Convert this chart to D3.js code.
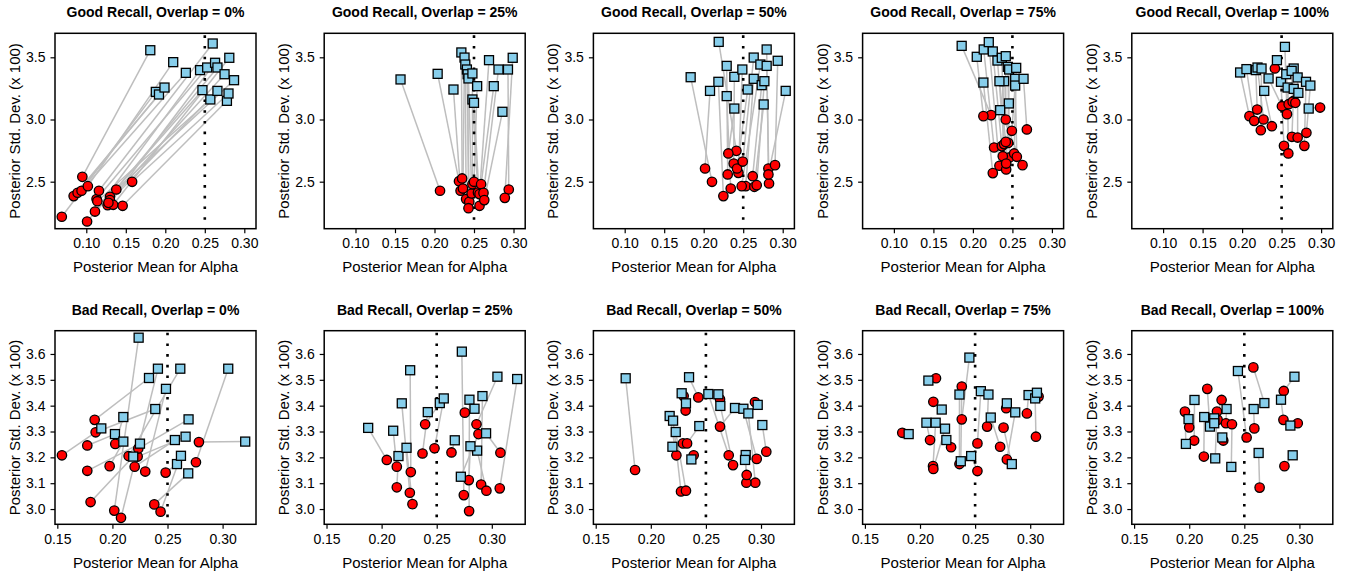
<!DOCTYPE html>
<head>
  <meta charset="utf-8">
</head>
<style>
body {
  margin: 0;
  background: #ffffff;
}

text {
  font-family: "Liberation Sans", Arial, sans-serif;
  fill: #000000;
}

.seg {
  stroke: #bebebe;
  stroke-width: 1.5;
}

.red {
  fill: #ff0000;
  stroke: #000000;
  stroke-width: 1.3;
}

.blue {
  fill: #87ceeb;
  stroke: #000000;
  stroke-width: 1.3;
}
</style>
<body>
<script src="https://d3js.org/d3.v7.min.js"></script>
<script>
var width = 1346,
  height = 575;

var recall = ["Good", "Bad"];
var overlap = ["0%", "25%", "50%", "75%", "100%"];

var xTicksGood = [0.10, 0.15, 0.20, 0.25, 0.30];
var yTicksGood = [2.5, 3.0, 3.5];
var xTicksBad = [0.15, 0.20, 0.25, 0.30];
var yTicksBad = [3.0, 3.1, 3.2, 3.3, 3.4, 3.5, 3.6];
var trueAlpha = 0.25;

// each row: [red mean, red sd, blue mean, blue sd]
var good0 = [
  [0.069, 2.218, 0.188, 3.222], [0.084, 2.384, 0.192, 3.201], [0.089, 2.411, 0.199, 3.257],
  [0.094, 2.427, 0.226, 3.375], [0.095, 2.539, 0.181, 3.557], [0.102, 2.464, 0.210, 3.461],
  [0.101, 2.180, 0.247, 3.236], [0.111, 2.260, 0.244, 3.397], [0.113, 2.360, 0.253, 3.418],
  [0.116, 2.427, 0.260, 3.611], [0.127, 2.311, 0.263, 3.456], [0.130, 2.378, 0.266, 3.418],
  [0.130, 2.352, 0.275, 3.364], [0.134, 2.314, 0.281, 3.496], [0.138, 2.437, 0.287, 3.316],
  [0.146, 2.306, 0.278, 3.150], [0.158, 2.499, 0.280, 3.209], [0.114, 2.343, 0.257, 3.161],
  [0.128, 2.330, 0.266, 3.230]
];

var good25 = [
  [0.207, 2.427, 0.157, 3.322], [0.231, 2.504, 0.204, 3.367], [0.233, 2.427, 0.224, 3.241],
  [0.235, 2.526, 0.234, 3.539], [0.236, 2.445, 0.238, 3.498], [0.240, 2.360, 0.239, 3.442],
  [0.244, 2.338, 0.241, 3.402], [0.243, 2.287, 0.242, 3.364], [0.247, 2.405, 0.243, 3.330],
  [0.248, 2.480, 0.248, 3.370], [0.250, 2.499, 0.254, 3.268], [0.255, 2.413, 0.248, 3.161],
  [0.257, 2.306, 0.250, 3.134], [0.257, 2.400, 0.269, 3.477], [0.259, 2.480, 0.275, 3.268],
  [0.262, 2.410, 0.281, 3.402], [0.263, 2.352, 0.286, 3.062], [0.294, 2.437, 0.293, 3.402],
  [0.289, 2.370, 0.299, 3.496]
];

var good50 = [
  [0.2105, 2.499, 0.1835, 3.340], [0.2017, 2.606, 0.2080, 3.230], [0.2249, 2.384, 0.2186, 3.303],
  [0.2414, 2.748, 0.2190, 3.624], [0.2304, 2.558, 0.2291, 3.431], [0.2342, 2.445, 0.2291, 3.188],
  [0.2312, 2.727, 0.2388, 3.088], [0.2380, 2.646, 0.2388, 3.343], [0.2439, 2.571, 0.2489, 3.402],
  [0.2422, 2.606, 0.2557, 3.241], [0.2494, 2.662, 0.2633, 3.498], [0.2532, 2.464, 0.2633, 3.327],
  [0.2481, 2.464, 0.2717, 3.442], [0.2620, 2.544, 0.2734, 3.276], [0.2641, 2.459, 0.2759, 3.121],
  [0.2671, 2.472, 0.2768, 3.308], [0.2819, 2.606, 0.2797, 3.563], [0.2827, 2.486, 0.2797, 3.431],
  [0.2903, 2.633, 0.2937, 3.472], [0.2819, 2.558, 0.3038, 3.230]
];

var good75 = [
  [0.2230, 3.035, 0.1858, 3.592], [0.2133, 3.027, 0.2049, 3.504], [0.2268, 2.775, 0.2137, 3.563],
  [0.2336, 2.628, 0.2201, 3.622], [0.2366, 2.786, 0.2252, 3.547], [0.2421, 2.598, 0.2311, 3.474],
  [0.2395, 2.802, 0.2366, 3.496], [0.2416, 3.000, 0.2416, 3.509], [0.2463, 2.695, 0.2442, 3.423],
  [0.2446, 2.812, 0.2459, 3.402], [0.2378, 2.705, 0.2395, 3.308], [0.2416, 2.820, 0.2336, 3.308],
  [0.2252, 2.569, 0.2133, 3.297], [0.2522, 2.727, 0.2548, 3.415], [0.2556, 2.700, 0.2535, 3.327],
  [0.2493, 2.909, 0.2535, 3.273], [0.2683, 2.920, 0.2641, 3.327], [0.2421, 2.646, 0.2455, 3.129],
  [0.2628, 2.633, 0.2345, 3.075]
];

var good100 = [
  [0.2093, 3.027, 0.1975, 3.378], [0.2153, 2.989, 0.2055, 3.405], [0.2191, 3.080, 0.2174, 3.397],
  [0.2271, 3.000, 0.2195, 3.418], [0.2237, 2.914, 0.2246, 3.410], [0.2377, 2.946, 0.2280, 3.230],
  [0.2504, 3.107, 0.2335, 3.330], [0.2415, 3.410, 0.2441, 3.477], [0.2530, 2.788, 0.2492, 3.303],
  [0.2568, 3.043, 0.2542, 3.584], [0.2589, 3.123, 0.2559, 3.364], [0.2585, 2.727, 0.2576, 3.257],
  [0.2653, 3.150, 0.2653, 3.410], [0.2640, 3.142, 0.2627, 3.391], [0.2631, 2.861, 0.2653, 3.246],
  [0.2703, 2.855, 0.2703, 3.338], [0.2674, 3.134, 0.2712, 3.214], [0.2788, 2.788, 0.2809, 3.303],
  [0.2814, 2.893, 0.2864, 3.273], [0.2987, 3.096, 0.2843, 3.088]
];

var bad0 = [
  [0.1542, 3.208, 0.1899, 3.312], [0.1772, 3.246, 0.2023, 3.290], [0.1839, 3.345, 0.2332, 3.507],
  [0.1848, 3.297, 0.2389, 3.387], [0.1772, 3.148, 0.2250, 3.253], [0.1975, 3.166, 0.2099, 3.261],
  [0.2026, 3.252, 0.2099, 3.356], [0.1802, 3.027, 0.2189, 3.203], [0.2017, 2.994, 0.2238, 3.663],
  [0.2078, 2.966, 0.2413, 3.543], [0.2147, 3.205, 0.2616, 3.543], [0.2202, 3.164, 0.2567, 3.267],
  [0.2229, 3.203, 0.2664, 3.280], [0.2235, 3.234, 0.2691, 3.347], [0.2298, 3.145, 0.2486, 3.465],
  [0.2483, 3.141, 0.2586, 3.174], [0.2380, 3.018, 0.2688, 3.138], [0.2437, 2.990, 0.2622, 3.206],
  [0.2785, 3.259, 0.3205, 3.261], [0.2758, 3.181, 0.3051, 3.543]
];

var bad25 = [
  [0.2047, 3.190, 0.1878, 3.314], [0.2138, 3.164, 0.2105, 3.303], [0.2256, 3.063, 0.2183, 3.409],
  [0.2138, 3.084, 0.2153, 3.205], [0.2280, 3.019, 0.2226, 3.237], [0.2265, 3.143, 0.2259, 3.537],
  [0.2371, 3.215, 0.2419, 3.375], [0.2395, 3.328, 0.2528, 3.410], [0.2480, 3.235, 0.2564, 3.428],
  [0.2634, 3.219, 0.2664, 3.266], [0.2746, 3.054, 0.2728, 3.609], [0.2794, 2.992, 0.2797, 3.423],
  [0.2755, 3.373, 0.2843, 3.388], [0.2903, 3.095, 0.2915, 3.437], [0.3078, 3.218, 0.2948, 3.293],
  [0.2951, 3.071, 0.2867, 3.226], [0.2791, 3.112, 0.2806, 3.243], [0.2879, 3.290, 0.2719, 3.125],
  [0.2861, 3.328, 0.3051, 3.512], [0.3072, 3.080, 0.3230, 3.503]
];

var bad50 = [
  [0.1857, 3.151, 0.1772, 3.506], [0.2232, 3.208, 0.2171, 3.360], [0.2274, 3.068, 0.2202, 3.342],
  [0.2319, 3.071, 0.2226, 3.298], [0.2292, 3.254, 0.2196, 3.241], [0.2298, 3.437, 0.2280, 3.448],
  [0.2316, 3.381, 0.2319, 3.409], [0.2431, 3.432, 0.2347, 3.510], [0.2329, 3.254, 0.2440, 3.321],
  [0.2389, 3.208, 0.2368, 3.192], [0.2707, 3.208, 0.2522, 3.445], [0.2628, 3.425, 0.2613, 3.444],
  [0.2746, 3.170, 0.2631, 3.399], [0.2628, 3.319, 0.2764, 3.391], [0.2961, 3.194, 0.2840, 3.388],
  [0.2948, 3.102, 0.2885, 3.370], [0.2945, 3.414, 0.2970, 3.403], [0.3048, 3.222, 0.3012, 3.325],
  [0.2867, 3.102, 0.2861, 3.209], [0.2870, 3.132, 0.2855, 3.190]
];

var bad75 = [
  [0.1839, 3.295, 0.1897, 3.290], [0.2091, 3.267, 0.2058, 3.334], [0.2118, 3.166, 0.2142, 3.334],
  [0.2145, 3.506, 0.2076, 3.497], [0.2121, 3.415, 0.2197, 3.385], [0.2121, 3.155, 0.2227, 3.311],
  [0.2282, 3.239, 0.2239, 3.267], [0.2379, 3.474, 0.2370, 3.185], [0.2358, 3.174, 0.2358, 3.443],
  [0.2379, 3.347, 0.2448, 3.586], [0.2521, 3.147, 0.2464, 3.205], [0.2521, 3.254, 0.2552, 3.456],
  [0.2609, 3.319, 0.2621, 3.443], [0.2727, 3.241, 0.2642, 3.354], [0.2782, 3.390, 0.2788, 3.409],
  [0.2758, 3.315, 0.2833, 3.174], [0.2788, 3.192, 0.2864, 3.374], [0.2970, 3.370, 0.2985, 3.441],
  [0.3052, 3.280, 0.3045, 3.428], [0.3076, 3.435, 0.3061, 3.450]
];

var bad100 = [
  [0.1961, 3.377, 0.1970, 3.252], [0.2000, 3.316, 0.1994, 3.348], [0.2045, 3.265, 0.2048, 3.422],
  [0.2133, 3.203, 0.2136, 3.356], [0.2164, 3.465, 0.2188, 3.319], [0.2258, 3.345, 0.2227, 3.351],
  [0.2294, 3.422, 0.2227, 3.332], [0.2252, 3.377, 0.2236, 3.196], [0.2309, 3.265, 0.2300, 3.277],
  [0.2333, 3.332, 0.2339, 3.387], [0.2388, 3.328, 0.2382, 3.163], [0.2521, 3.277, 0.2442, 3.534],
  [0.2591, 3.312, 0.2585, 3.387], [0.2639, 3.083, 0.2630, 3.217], [0.2582, 3.548, 0.2682, 3.410],
  [0.2855, 3.345, 0.2833, 3.423], [0.2985, 3.332, 0.2918, 3.323], [0.2864, 3.166, 0.2939, 3.208],
  [0.2858, 3.457, 0.2955, 3.512]
];

var panels = [
  [good0, good25, good50, good75, good100],
  [bad0, bad25, bad50, bad75, bad100]
];

// plot box layout for each row
var rows = [
  {top: 33.3, bottom: 228.7, xDomain: [0.0604, 0.3148], yDomain: [2.122, 3.693], xTicks: xTicksGood, yTicks: yTicksGood},
  {top: 330.7, bottom: 524.3, xDomain: [0.1479, 0.3303], yDomain: [2.941, 3.690], xTicks: xTicksBad, yTicks: yTicksBad}
];

var colWidth = width / 5,
  boxLeft = 55,
  boxRight = 256,
  tickLen = 4.5;

var svg = d3.select("body").append("svg")
  .attr("width", width)
  .attr("height", height);

rows.forEach(function(row, r) {
  for (var c = 0; c < 5; c++) {
    var x0 = c * colWidth;
    var x = d3.scaleLinear().domain(row.xDomain).range([x0 + boxLeft, x0 + boxRight]);
    var y = d3.scaleLinear().domain(row.yDomain).range([row.bottom, row.top]);
    var data = panels[r][c];
    var g = svg.append("g");

    // title
    g.append("text")
      .attr("x", (x0 + boxLeft + x0 + boxRight) / 2)
      .attr("y", row.top - 16)
      .attr("text-anchor", "middle")
      .attr("font-weight", "bold")
      .attr("font-size", 14)
      .text(recall[r] + " Recall, Overlap = " + overlap[c]);

    // connecting segments
    g.selectAll(".seg")
      .data(data)
      .enter().append("line")
      .attr("class", "seg")
      .attr("x1", function(d) { return x(d[0]); })
      .attr("y1", function(d) { return y(d[1]); })
      .attr("x2", function(d) { return x(d[2]); })
      .attr("y2", function(d) { return y(d[3]); });

    // true alpha reference
    g.append("line")
      .attr("x1", x(trueAlpha))
      .attr("x2", x(trueAlpha))
      .attr("y1", row.top + 2)
      .attr("y2", row.bottom)
      .attr("stroke", "#000")
      .attr("stroke-width", 2.6)
      .attr("stroke-dasharray", "2.6,8.1");

    g.selectAll(".red")
      .data(data)
      .enter().append("circle")
      .attr("class", "red")
      .attr("cx", function(d) { return x(d[0]); })
      .attr("cy", function(d) { return y(d[1]); })
      .attr("r", 4.7);

    g.selectAll(".blue")
      .data(data)
      .enter().append("rect")
      .attr("class", "blue")
      .attr("x", function(d) { return x(d[2]) - 4.5; })
      .attr("y", function(d) { return y(d[3]) - 4.5; })
      .attr("width", 9)
      .attr("height", 9);

    // box
    g.append("rect")
      .attr("x", x0 + boxLeft)
      .attr("y", row.top)
      .attr("width", boxRight - boxLeft)
      .attr("height", row.bottom - row.top)
      .attr("fill", "none")
      .attr("stroke", "#000")
      .attr("stroke-width", 1.5);

    // x axis
    var xAxis = g.append("g")
      .attr("transform", "translate(0," + row.bottom + ")")
      .call(d3.axisBottom(x).tickValues(row.xTicks).tickFormat(d3.format(".2f"))
        .tickSize(tickLen).tickPadding(5));
    xAxis.select(".domain").remove();
    xAxis.selectAll("text").attr("font-size", 14).attr("font-family", null).attr("fill", null);
    xAxis.selectAll("line").attr("stroke-width", 1.2);

    var yAxis = g.append("g")
      .attr("transform", "translate(" + (x0 + boxLeft) + ",0)")
      .call(d3.axisLeft(y).tickValues(row.yTicks).tickFormat(d3.format(".1f"))
        .tickSize(tickLen).tickPadding(5));
    yAxis.select(".domain").remove();
    yAxis.selectAll("text").attr("font-size", 14).attr("font-family", null).attr("fill", null);
    yAxis.selectAll("line").attr("stroke-width", 1.2);

    // axis titles
    g.append("text")
      .attr("x", (x0 + boxLeft + x0 + boxRight) / 2)
      .attr("y", row.bottom + 43.5)
      .attr("text-anchor", "middle")
      .attr("font-size", 15)
      .text("Posterior Mean for Alpha");

    g.append("text")
      .attr("transform", "translate(" + (x0 + 20) + "," + ((row.top + row.bottom) / 2) + ") rotate(-90)")
      .attr("text-anchor", "middle")
      .attr("font-size", 15)
      .text("Posterior Std. Dev. (x 100)");
  }
});
</script>
</body>
